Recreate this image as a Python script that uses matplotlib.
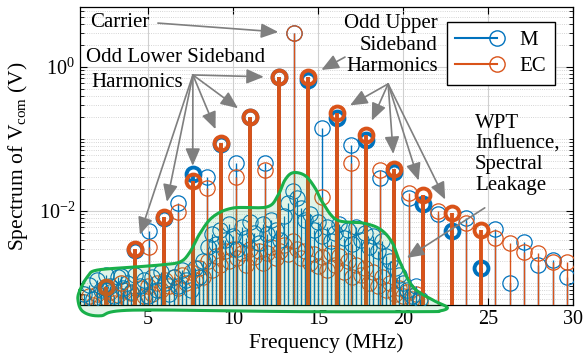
import numpy as np
import matplotlib
matplotlib.use('Agg')
import matplotlib.pyplot as plt
from matplotlib.lines import Line2D
from matplotlib.legend_handler import HandlerBase
from matplotlib.ticker import FixedLocator, LogLocator, NullFormatter

plt.rcParams['font.family'] = ['Liberation Serif', 'DejaVu Serif']
plt.rcParams['mathtext.fontset'] = 'custom'
plt.rcParams['mathtext.rm'] = 'Liberation Serif'
plt.rcParams['mathtext.it'] = 'Liberation Serif:italic'
plt.rcParams['mathtext.bf'] = 'Liberation Serif:bold'

BLUE = '#0072BD'
ORANGE = '#D95319'
GREEN = '#19B04A'
ARROW = '#7F7F7F'

# odd sideband harmonics (bold stems), k = -13, -11, ..., 13
odd_f = [2.54, 4.24, 5.93, 7.63, 9.32, 11.02, 12.71,
         14.41, 16.10, 17.80, 19.49, 21.19, 22.88, 24.58]
odd_m = [8.5e-4, 2.9e-3, 8.1e-3, 3.3e-2, 8.5e-2, 0.20, 0.72,
         0.66, 0.195, 9.8e-2, 3.5e-2, 1.26e-2, 5.2e-3, 1.6e-3]
odd_ec = [8.7e-4, 2.95e-3, 8.3e-3, 2.6e-2, 8.7e-2, 0.20, 0.72,
          0.72, 0.23, 0.115, 3.8e-2, 1.66e-2, 9.3e-3, 5.5e-3]

# carrier, even harmonics and the far upper ones (thin stems)
thin_f = [3.39, 5.08, 6.78, 8.48, 10.17, 11.87, 13.56, 15.26, 16.95, 18.65,
          20.34, 22.04, 23.73, 25.43, 26.27, 27.12, 27.97, 28.82, 29.66]
thin_m = [1.26e-3, 5.2e-3, 1.3e-2, 2.95e-2, 4.7e-2, 4.7e-2, 2.95, 0.14, 8.3e-2, 2.9e-2,
          1.5e-2, 9.1e-3, 7.9e-3, 5.6e-3, 1.0e-3, 3.7e-3, 1.8e-3, 2.1e-3, 1.2e-3]
thin_ec = [1.0e-3, 3.2e-3, 9.8e-3, 2.1e-2, 2.95e-2, 3.7e-2, 2.95, 1.55e-2, 4.7e-2, 3.7e-2,
           1.8e-2, 1.0e-2, 6.8e-3, 4.2e-3, 3.6e-3, 2.7e-3, 2.6e-3, 1.95e-3, 1.95e-3]

# WPT influence / leakage floor
noise_f = [1.25, 1.5, 1.75, 2.0, 2.25, 2.5, 2.75, 3.0, 3.25, 3.5,
           3.75, 4.0, 4.25, 4.5, 4.75, 5.0, 5.25, 5.5, 5.75, 6.0,
           6.25, 6.5, 6.75, 7.0, 7.25, 7.5, 7.75, 8.0, 8.25, 8.5,
           8.75, 9.0, 9.25, 9.5, 9.75, 10.0, 10.25, 10.5, 10.75, 11.0,
           11.25, 11.5, 11.75, 12.0, 12.25, 12.5, 12.75, 13.0, 13.25, 13.5,
           13.75, 14.0, 14.25, 14.5, 14.75, 15.0, 15.25, 15.5, 15.75, 16.0,
           16.25, 16.5, 16.75, 17.0, 17.25, 17.5, 17.75, 18.0, 18.25, 18.5,
           18.75, 19.0, 19.25, 19.5, 19.75, 20.0, 20.25, 20.5, 20.75, 21.0]
noise_m = [7.0e-4, 9.5e-4, 6.0e-4, 1.1e-3, 8.0e-4, 1.3e-3, 9.0e-4, 6.5e-4, 1.2e-3, 8.5e-4,
           1.0e-3, 7.5e-4, 1.3e-3, 9.0e-4, 1.1e-3, 6.5e-4, 1.2e-3, 8.0e-4, 1.4e-3, 1.0e-3,
           7.0e-4, 1.2e-3, 9.0e-4, 1.5e-3, 1.1e-3, 8.0e-4, 1.6e-3, 1.2e-3, 2.0e-3, 3.2e-3,
           4.8e-3, 3.5e-3, 5.5e-3, 4.0e-3, 6.5e-3, 4.5e-3, 3.0e-3, 6.0e-3, 4.2e-3, 7.0e-3,
           5.0e-3, 3.6e-3, 6.5e-3, 4.8e-3, 7.5e-3, 5.5e-3, 4.0e-3, 8.5e-3, 1.3e-2, 1.9e-2,
           1.5e-2, 1.1e-2, 7.5e-3, 9.0e-3, 5.5e-3, 7.0e-3, 4.5e-3, 6.0e-3, 3.8e-3, 5.0e-3,
           6.5e-3, 4.2e-3, 5.5e-3, 3.5e-3, 6.0e-3, 4.0e-3, 5.0e-3, 3.2e-3, 4.5e-3, 2.8e-3,
           3.8e-3, 2.4e-3, 2.0e-3, 1.6e-3, 1.3e-3, 1.0e-3, 8.0e-4, 6.5e-4, 9.0e-4, 6.0e-4]
noise_ec = [5.5e-4, 6.5e-4, 5.0e-4, 7.0e-4, 5.8e-4, 6.2e-4, 7.5e-4, 5.2e-4, 6.8e-4, 8.0e-4,
            6.0e-4, 7.2e-4, 5.5e-4, 8.5e-4, 6.5e-4, 9.0e-4, 7.0e-4, 1.0e-3, 8.0e-4, 1.1e-3,
            9.0e-4, 1.2e-3, 8.5e-4, 1.3e-3, 1.0e-3, 1.4e-3, 1.1e-3, 1.6e-3, 1.2e-3, 2.0e-3,
            1.5e-3, 2.4e-3, 1.8e-3, 2.8e-3, 2.0e-3, 3.0e-3, 2.2e-3, 2.6e-3, 1.8e-3, 3.0e-3,
            2.3e-3, 2.8e-3, 1.9e-3, 2.6e-3, 3.2e-3, 2.2e-3, 2.8e-3, 3.4e-3, 2.5e-3, 3.8e-3,
            3.0e-3, 2.2e-3, 2.8e-3, 1.9e-3, 2.5e-3, 1.7e-3, 2.3e-3, 1.5e-3, 2.6e-3, 1.8e-3,
            2.4e-3, 1.4e-3, 2.0e-3, 1.2e-3, 1.8e-3, 1.3e-3, 1.6e-3, 1.0e-3, 1.4e-3, 9.0e-4,
            1.2e-3, 8.0e-4, 1.0e-3, 7.0e-4, 8.5e-4, 6.5e-4, 7.5e-4, 6.0e-4, 7.0e-4, 5.5e-4]

# outline of the shaded "WPT influence" region (MHz, V)
region_f = [1.0, 1.47, 2.0, 4.12, 5.71, 6.88, 7.47, 8.06, 8.82, 10.0, 12.0, 12.65,
            13.06, 13.53, 14.24, 14.82, 15.29, 16.12, 17.65, 18.65, 19.35, 19.82,
            20.59, 21.76, 22.6, 22.18, 21.18, 13.94, 4.12, 2.18, 1.18, 0.88]
region_v = [8.0e-4, 1.25e-3, 1.51e-3, 1.66e-3, 1.78e-3, 1.96e-3, 2.7e-3, 4.9e-3, 8.3e-3,
            1.1e-2, 1.14e-2, 1.66e-2, 2.7e-2, 3.4e-2, 3.1e-2, 2.1e-2, 1.29e-2, 7.5e-3,
            6.8e-3, 5.6e-3, 3.7e-3, 1.96e-3, 8.8e-4, 5.8e-4, 4.6e-4, 4.1e-4, 4.0e-4,
            4.0e-4, 4.2e-4, 3.5e-4, 4.0e-4, 5.8e-4]

YMIN, YMAX = 4.95e-4, 6.8
FS = 15


def smooth_closed(x, y, n=14):
    # closed Catmull-Rom spline through the outline points
    P = np.column_stack([x, y])
    t = np.linspace(0, 1, n, endpoint=False)[:, None]
    segs = []
    N = len(P)
    for i in range(N):
        p0, p1, p2, p3 = P[i - 1], P[i], P[(i + 1) % N], P[(i + 2) % N]
        segs.append(0.5 * (2 * p1 + (-p0 + p2) * t
                           + (2 * p0 - 5 * p1 + 4 * p2 - p3) * t ** 2
                           + (-p0 + 3 * p1 - 3 * p2 + p3) * t ** 3))
    s = np.vstack(segs + [segs[0][:1]])
    return s[:, 0], s[:, 1]


def stems(ax, f, v, color, lw, ms, mew, z):
    ax.vlines(f, YMIN, v, color=color, lw=lw, zorder=z)
    ax.plot(f, v, 'o', ls='none', mfc='none', mec=color, ms=ms, mew=mew, zorder=z + 0.1)


class StemHandler(HandlerBase):
    def create_artists(self, legend, orig_handle, xdescent, ydescent,
                       width, height, fontsize, trans):
        y = height / 2 - ydescent
        c = orig_handle.get_color()
        ln = Line2D([-xdescent, width - xdescent], [y, y], color=c, lw=1.5, transform=trans)
        mk = Line2D([width - xdescent], [y], marker='o', ms=11, mfc='none',
                    mec=c, mew=1.0, transform=trans)
        return [ln, mk]


fig = plt.figure(figsize=(5.84, 3.63), dpi=100)
ax = fig.add_axes([80 / 584, 58 / 363, 493 / 584, 298 / 363])
ax.set_yscale('log')
ax.set_xlim(1, 30)
ax.set_ylim(YMIN, YMAX)

# floor
stems(ax, noise_f, noise_ec, ORANGE, 0.9, 11, 0.8, 2)
stems(ax, noise_f, noise_m, BLUE, 0.9, 11, 0.8, 2.5)
# harmonics
stems(ax, thin_f, thin_m, BLUE, 1.0, 11, 0.9, 3)
stems(ax, thin_f, thin_ec, ORANGE, 1.0, 11, 0.9, 3.5)
stems(ax, odd_f, odd_m, BLUE, 2.8, 10, 2.8, 4)
stems(ax, odd_f, odd_ec, ORANGE, 2.8, 10, 2.8, 4.5)

# shaded region
rx, ry = smooth_closed(region_f, np.log10(region_v))
ax.fill(rx, 10 ** ry, facecolor=GREEN, alpha=0.13, edgecolor='none', zorder=5, clip_on=False)
ax.plot(rx, 10 ** ry, color=GREEN, lw=2.2, zorder=5.5, clip_on=False)

# axes styling
ax.set_xticks([5, 10, 15, 20, 25, 30])
ax.yaxis.set_major_locator(FixedLocator([1e-2, 1e0]))
ax.yaxis.set_minor_locator(LogLocator(base=10, subs=np.arange(1, 10), numticks=20))
ax.yaxis.set_minor_formatter(NullFormatter())
ax.tick_params(which='both', direction='in', top=True, right=True, labelsize=14.5)
ax.tick_params(which='major', length=5, width=0.8)
ax.tick_params(which='minor', length=3, width=0.6)
ax.grid(True, which='major', color='#D0D0D0', lw=0.8, zorder=0)
ax.grid(True, which='minor', axis='y', color='#C8C8C8', lw=0.6, ls=':', zorder=0)
ax.set_axisbelow(True)
for s in ax.spines.values():
    s.set_linewidth(0.9)
ax.set_xlabel('Frequency (MHz)', fontsize=15.5, labelpad=3)
ax.set_ylabel('Spectrum of V$_{\\mathrm{com}}$ (V)', fontsize=15.5, labelpad=6)

# annotations
arrow = dict(arrowstyle='-|>,head_length=0.75,head_width=0.32', color=ARROW, lw=1.2,
             shrinkA=0, shrinkB=11, mutation_scale=14)
ax.text(0.02, 0.948, 'Carrier', transform=ax.transAxes, fontsize=FS, va='center', zorder=7)
ax.annotate('', xy=(thin_f[6], thin_ec[6]), xytext=(0.158, 0.946),
            textcoords='axes fraction', arrowprops=arrow, zorder=7)

ax.text(0.012, 0.832, 'Odd Lower Sideband', transform=ax.transAxes, fontsize=FS,
        va='center', zorder=7)
ax.text(0.024, 0.748, 'Harmonics', transform=ax.transAxes, fontsize=FS, va='center', zorder=7)
for i in [1, 2, 3, 4, 5, 6]:
    ax.annotate('', xy=(odd_f[i], odd_ec[i]), xytext=(0.229, 0.772),
                textcoords='axes fraction', arrowprops=arrow, zorder=7)

ax.text(0.726, 0.872, 'Odd Upper\nSideband\nHarmonics', transform=ax.transAxes,
        fontsize=FS, ha='right', va='center', linespacing=1.2, zorder=7)
ax.annotate('', xy=(odd_f[7], odd_ec[7]), xytext=(0.5375, 0.832),
            textcoords='axes fraction', arrowprops=arrow, zorder=7)
for i in [8, 9, 10, 11, 12]:
    ax.annotate('', xy=(odd_f[i], odd_ec[i]), xytext=(0.625, 0.742),
                textcoords='axes fraction', arrowprops=arrow, zorder=7)

ax.text(0.801, 0.505, 'WPT\nInfluence,\nSpectral\nLeakage', transform=ax.transAxes,
        fontsize=FS, ha='left', va='center', linespacing=1.12, zorder=7)
leak = dict(arrow, shrinkB=0)
ax.annotate('', xy=(0.663, 0.158), xycoords='axes fraction', xytext=(0.821, 0.326),
            textcoords='axes fraction', arrowprops=leak, zorder=7)

# legend
h_m = Line2D([], [], color=BLUE)
h_ec = Line2D([], [], color=ORANGE)
leg = ax.legend([h_m, h_ec], ['M', 'EC'], handler_map={Line2D: StemHandler()},
                loc='upper right', bbox_to_anchor=(0.984, 0.983), fontsize=FS,
                fancybox=False, framealpha=1, edgecolor='black', handlelength=2.0,
                handletextpad=1.1, labelspacing=0.3, borderpad=0.4)
leg.get_frame().set_linewidth(1.0)
leg.set_zorder(10)

fig.savefig('out.png', dpi=100)
